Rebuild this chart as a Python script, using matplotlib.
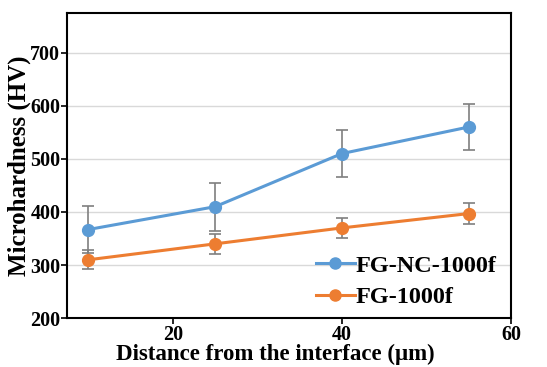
import matplotlib
matplotlib.use("Agg")
import matplotlib.pyplot as plt
from matplotlib.lines import Line2D

# distances (um) and hardness values
distance = [10, 25, 40, 55]
hv_nc = [367, 410, 510, 560]
err_nc = [44, 45, 44, 44]
hv_fg = [310, 340, 370, 397]
err_fg = [18, 19, 19, 19]

blue = "#5b9bd5"
orange = "#ed7d31"

plt.rcParams["font.family"] = ["Liberation Serif", "DejaVu Serif"]
plt.rcParams["font.weight"] = "bold"

fig, ax = plt.subplots(figsize=(5.47, 3.67), dpi=100)
fig.subplots_adjust(left=0.123, right=0.934, top=0.965, bottom=0.133)

ax.errorbar(distance, hv_nc, yerr=err_nc, color=blue, lw=2.2, marker="o", ms=8.5,
            ecolor="#7f7f7f", elinewidth=1.2, capsize=4, capthick=1.2, zorder=3)
ax.errorbar(distance, hv_fg, yerr=err_fg, color=orange, lw=2.2, marker="o", ms=8.5,
            ecolor="#7f7f7f", elinewidth=1.2, capsize=4, capthick=1.2, zorder=3)

ax.set_xlim(7.5, 60)
ax.set_ylim(200, 775)
ax.set_xticks([20, 40, 60])
ax.set_yticks([200, 300, 400, 500, 600, 700])
ax.grid(axis="y", color="#d9d9d9", lw=1)
ax.set_axisbelow(True)

for s in ax.spines.values():
    s.set_linewidth(1.5)
    s.set_color("black")

ax.tick_params(axis="both", labelsize=14.5, width=1.2, length=4, direction="out", pad=1)
ax.set_xlabel("Distance from the interface (\u03bcm)", fontsize=16.5, fontweight="bold")
ax.xaxis.set_label_coords(0.47, -0.085)
ax.set_ylabel("Microhardness (HV)", fontsize=18, fontweight="bold")
ax.yaxis.set_label_coords(-0.082, 0.5)

handles = [Line2D([], [], color=blue, lw=2.2, marker="o", ms=8),
           Line2D([], [], color=orange, lw=2.2, marker="o", ms=8)]
leg = ax.legend(handles, ["FG-NC-1000f", "FG-1000f"], loc="lower right", frameon=False,
                fontsize=17.5, handlelength=1.6, handletextpad=0.05, labelspacing=0.4,
                borderaxespad=0.0, bbox_to_anchor=(0.99, 0.0))
for t in leg.get_texts():
    t.set_fontweight("bold")

fig.savefig("out.png", dpi=100)
